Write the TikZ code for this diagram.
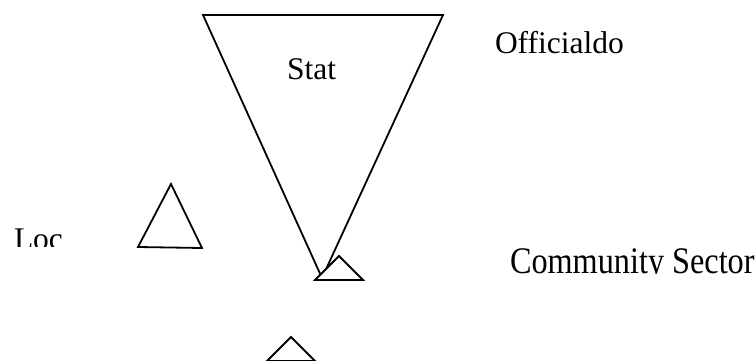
\documentclass[tikz,border=0pt]{standalone}
\usepackage{fontspec}
\usepackage{graphicx}
\setmainfont{Liberation Serif}
\begin{document}
\begin{tikzpicture}[x=1pt,y=-1pt,
  tri/.style={draw=black,line width=1.8pt,line join=miter,fill=white},
  lbl/.style={anchor=base west,inner sep=0pt,outer sep=0pt,font=\fontsize{31.5}{32}\selectfont}]
\useasboundingbox (0,0) rectangle (755,361);
% big inverted triangle
\draw[tri] (203,15) -- (443,15) -- (322,278) -- cycle;
% small triangle at its apex
\draw[tri] (315,280) -- (339,256) -- (363,280) -- cycle;
% Loc triangle
\draw[tri] (138,247) -- (171,184) -- (202,248) -- cycle;
% bottom triangle
\draw[tri] (267,361) -- (291,337) -- (315,361) -- cycle;
\node[lbl] (stat) at (287,80) {Stat};
\node[lbl] (off) at (495,53.5) {Officialdo};
\begin{scope}
\clip (0,0) rectangle (755,273.8);
\node[lbl,font=\fontsize{37.5}{38}\selectfont] (comm) at (510,273) {\scalebox{0.86}[1]{Community Sector}};
\end{scope}
\begin{scope}
\clip (0,0) rectangle (755,246);
\node[lbl] (loc) at (14,249.5) {Loc};
\end{scope}
\end{tikzpicture}
\end{document}
